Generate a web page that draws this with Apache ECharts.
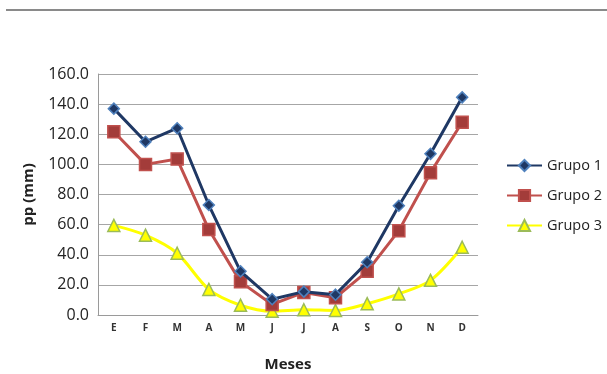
<!DOCTYPE html>
<html><head><meta charset="utf-8">
<script src="https://cdn.jsdelivr.net/npm/echarts@6/dist/echarts.min.js"></script>
<style>html,body{margin:0;padding:0;background:#fff}#c{width:607px;height:374px}</style>
</head><body><div id="c"></div>
<script>
const months = ['E','F','M','A','M','J','J','A','S','O','N','D'];
const grupo1 = [137, 115, 124, 73, 29, 10.5, 15.5, 13.5, 35, 72.5, 107, 144.5];
const grupo2 = [121.7, 100, 103.5, 56.7, 22, 7, 15, 11.5, 29, 56, 94.5, 128];
const grupo3 = [59.5, 53, 41, 17, 6.5, 2.5, 3.5, 3, 7.5, 14, 23, 45];
const yTicks = {min: 0, max: 160, interval: 20};

const chart = echarts.init(document.getElementById('c'));
chart.setOption({
  animation: false,
  textStyle: {fontFamily: 'Open Sans'},
  graphic: [{type: 'line', shape: {x1: 6, y1: 10, x2: 607, y2: 10}, style: {stroke: '#8a8a8a', lineWidth: 2}}],
  grid: {left: 98, right: 129, top: 74, bottom: 59, outerBoundsMode: 'none', containLabel: false},
  legend: {
    orient: 'vertical', left: 501, top: 153, itemGap: 15, itemWidth: 35, itemHeight: 14,
    textStyle: {fontSize: 14.5, color: '#222'},
    data: ['Grupo 1', 'Grupo 2', 'Grupo 3']
  },
  xAxis: {
    type: 'category', data: months, boundaryGap: true,
    name: 'Meses', nameLocation: 'middle', nameGap: 42,
    nameTextStyle: {fontSize: 15, fontWeight: 'bold', color: '#222'},
    axisLine: {lineStyle: {color: '#9a9a9a', width: 1}},
    axisTick: {show: false},
    axisLabel: {fontSize: 10, fontWeight: 'bold', color: '#333', margin: 8}
  },
  yAxis: {
    type: 'value', min: yTicks.min, max: yTicks.max, interval: yTicks.interval,
    name: 'pp (mm)', nameLocation: 'middle', nameGap: 62,
    nameTextStyle: {fontSize: 15, fontWeight: 'bold', color: '#222'},
    axisLine: {show: true, lineStyle: {color: '#9a9a9a', width: 1}},
    axisTick: {show: false},
    splitLine: {lineStyle: {color: '#a6a6a6', width: 1}},
    axisLabel: {fontSize: 16, color: '#222', margin: 9, formatter: v => v.toFixed(1)}
  },
  series: [
    {name: 'Grupo 1', type: 'line', data: grupo1, symbol: 'diamond', symbolSize: 11,
      lineStyle: {color: '#1f3864', width: 3}, itemStyle: {color: '#1f3864', borderColor: '#4f81bd', borderWidth: 1.5}, z: 4},
    {name: 'Grupo 2', type: 'line', data: grupo2, symbol: 'rect', symbolSize: 12,
      lineStyle: {color: '#c0504d', width: 3}, itemStyle: {color: '#a33c3a', borderColor: '#c0504d', borderWidth: 1.5}, z: 3},
    {name: 'Grupo 3', type: 'line', data: grupo3, symbol: 'triangle', symbolSize: 12, smooth: 0.3,
      lineStyle: {color: '#ffff00', width: 3}, itemStyle: {color: '#ffff00', borderColor: '#9bbb59', borderWidth: 1.5}, z: 2}
  ]
});
</script></body></html>
